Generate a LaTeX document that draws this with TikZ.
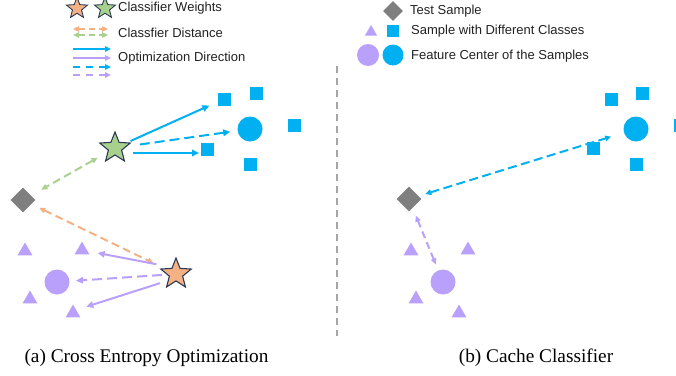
\documentclass[tikz,border=0pt]{standalone}
\usepackage{fontspec}
\setmainfont{Liberation Serif}
\newfontfamily\legfont{Liberation Sans}
\usetikzlibrary{shapes.geometric,arrows.meta,calc}
\definecolor{cblue}{HTML}{00B0F0}
\definecolor{cpurp}{HTML}{B9A1FB}
\definecolor{cgreen}{HTML}{A9D18E}
\definecolor{corange}{HTML}{F4B183}
\definecolor{cgray}{HTML}{7F7F7F}
\definecolor{cstar}{HTML}{2E3A55}
\definecolor{csep}{HTML}{A6A6A6}
\definecolor{ctext}{HTML}{222222}
\tikzset{
 sq/.style={rectangle, fill=cblue, minimum size=13pt, inner sep=0pt},
 lsq/.style={rectangle, fill=cblue, minimum size=12pt, inner sep=0pt},
 tri/.style={regular polygon, regular polygon sides=3, fill=cpurp, minimum size=17pt, inner sep=0pt},
 ltri/.style={regular polygon, regular polygon sides=3, fill=cpurp, minimum size=15pt, inner sep=0pt},
 bcirc/.style={circle, fill=cblue, minimum size=25pt, inner sep=0pt},
 pcirc/.style={circle, fill=cpurp, minimum size=25pt, inner sep=0pt},
 dia/.style={diamond, fill=cgray, minimum size=25pt, inner sep=0pt},
 gstar/.style={star, star points=5, star point ratio=2.3, fill=cgreen, draw=cstar, line width=1.1pt, minimum size=32pt, inner sep=0pt},
 ostar/.style={star, star points=5, star point ratio=2.3, fill=corange, draw=cstar, line width=1.1pt, minimum size=32pt, inner sep=0pt},
 legtext/.style={font=\legfont\fontsize{13}{15}\selectfont, text=ctext, anchor=west, inner sep=0pt},
 captext/.style={font=\fontsize{19.3}{22}\selectfont, text=black, inner sep=0pt},
 tip/.style={-{Triangle[length=7pt,width=6.5pt]}},
 dtip/.style={{Triangle[length=6pt,width=5.5pt]}-{Triangle[length=6pt,width=5.5pt]}},
 solidarr/.style={tip, line width=2pt},
 dasharr/.style={tip, line width=2pt, dash pattern=on 10pt off 5pt},
 distarr/.style={dtip, line width=2pt, dash pattern=on 8pt off 4.5pt},
}
\begin{document}
\begin{tikzpicture}[x=1pt,y=-1pt]
\clip (0,0) rectangle (676,375);
\fill[white] (0,0) rectangle (676,375);

% ---------- left legend ----------
\node[ostar, minimum size=22pt, line width=0.9pt] (lo) at (77,8.5) {};
\node[gstar, minimum size=22pt, line width=0.9pt] (lg) at (105,8.5) {};
\node[legtext] (t1) at (118,8) {Classifier Weights};
\coordinate (a1s) at (73,29); \coordinate (a1e) at (108,29);
\coordinate (a2s) at (73,35); \coordinate (a2e) at (108,35);
\draw[distarr, corange, line width=1.8pt, dash pattern=on 6pt off 4pt] (a1s) -- (a1e);
\draw[distarr, cgreen, line width=1.8pt, dash pattern=on 6pt off 4pt] (a2s) -- (a2e);
\node[legtext] (t2) at (118,33) {Classfier Distance};
\coordinate (b1s) at (73,49); \coordinate (b1e) at (111,49);
\coordinate (b2s) at (73,58); \coordinate (b2e) at (111,58);
\coordinate (b3s) at (73,67); \coordinate (b3e) at (111,67);
\coordinate (b4s) at (73,75); \coordinate (b4e) at (111,75);
\draw[solidarr, cblue, line width=1.9pt, -{Triangle[length=6pt,width=5.5pt]}] (b1s) -- (b1e);
\draw[solidarr, cpurp, line width=1.9pt, -{Triangle[length=6pt,width=5.5pt]}] (b2s) -- (b2e);
\draw[dasharr, cblue, line width=1.9pt, dash pattern=on 7pt off 6pt, -{Triangle[length=6pt,width=5.5pt]}] (b3s) -- (b3e);
\draw[dasharr, cpurp, line width=1.9pt, dash pattern=on 7pt off 6pt, -{Triangle[length=6pt,width=5.5pt]}] (b4s) -- (b4e);
\node[legtext] (t3) at (118,58) {Optimization Direction};

% ---------- right legend ----------
\node[dia, minimum size=20pt] (ld) at (393,11) {};
\node[legtext] (t4) at (410,11) {Test Sample};
\node[ltri, minimum size=14pt] (lt) at (371,32) {};
\node[lsq] (ls) at (393,31) {};
\node[legtext] (t5) at (411,31) {Sample with Different Classes};
\node[pcirc, minimum size=22pt] (lpc) at (368,55) {};
\node[bcirc, minimum size=21pt] (lbc) at (393,55) {};
\node[legtext] (t6) at (411,56) {Feature Center of the Samples};

% ---------- separator ----------
\coordinate (s1) at (337,66); \coordinate (s2) at (337,336);
\draw[csep, line width=2.6pt, dash pattern=on 7pt off 5pt] (s1) -- (s2);

% ---------- left panel ----------
\node[sq] (sq1) at (224,99) {};
\node[sq] (sq2) at (256,93) {};
\node[sq] (sq3) at (294,125) {};
\node[sq] (sq4) at (207,149) {};
\node[sq] (sq5) at (250,164) {};
\node[bcirc] (bc) at (250,129) {};
\node[tri] (tr1) at (25,251) {};
\node[tri] (tr2) at (82,250) {};
\node[tri] (tr3) at (30,299) {};
\node[tri] (tr4) at (73,313) {};
\node[pcirc] (pc) at (57,282) {};
\node[dia] (dm) at (23,200) {};
\node[gstar] (gs) at (115,148) {};
\node[ostar] (os) at (176,274) {};

\draw[solidarr, cblue, shorten <=17pt, shorten >=16pt] (gs.center) -- (sq1.center);
\draw[dasharr, cblue, shorten <=25pt, shorten >=20pt] (gs.center) -- (bc.center);
\draw[solidarr, cblue, shorten <=18pt, shorten >=8pt] ($(gs.center)+(0,5)$) -- ($(sq4.center)+(0,4)$);
\draw[distarr, cgreen, shorten <=20pt, shorten >=21pt] (gs.center) -- (dm.center);
\draw[distarr, corange, shorten <=18pt, shorten >=25pt] (dm.center) -- (os.center);
\draw[solidarr, cpurp, shorten <=20pt, shorten >=16pt] ($(os.center)+(0,-6)$) -- (tr2.center);
\draw[dasharr, cpurp, shorten <=14pt, shorten >=19pt] (os.center) -- (pc.center);
\draw[solidarr, cpurp, shorten <=17pt, shorten >=14pt] ($(os.center)+(0,4)$) -- ($(tr4.center)+(0,-2)$);

% ---------- right panel ----------
\node[sq] (rsq1) at (611,99) {};
\node[sq] (rsq2) at (642,93) {};
\node[sq] (rsq3) at (680,125) {};
\node[sq] (rsq4) at (593,148) {};
\node[sq] (rsq5) at (636,164) {};
\node[bcirc] (rbc) at (636,129) {};
\node[tri] (rtr1) at (411,251) {};
\node[tri] (rtr2) at (468,250) {};
\node[tri] (rtr3) at (416,299) {};
\node[tri] (rtr4) at (459,313) {};
\node[pcirc] (rpc) at (443,282) {};
\node[dia] (rdm) at (409,199) {};

\draw[distarr, cblue, dash pattern=on 9pt off 4.5pt, shorten <=17pt, shorten >=26pt] (rdm.center) -- (rbc.center);
\draw[distarr, cpurp, dash pattern=on 7pt off 4.5pt, shorten <=18pt, shorten >=19pt] (rdm.center) -- (rpc.center);

% ---------- captions ----------
\node[captext] (ca) at (146.5,358) {(a) Cross Entropy Optimization};
\node[captext] (cb) at (536,358) {(b) Cache Classifier};
\end{tikzpicture}
\end{document}
